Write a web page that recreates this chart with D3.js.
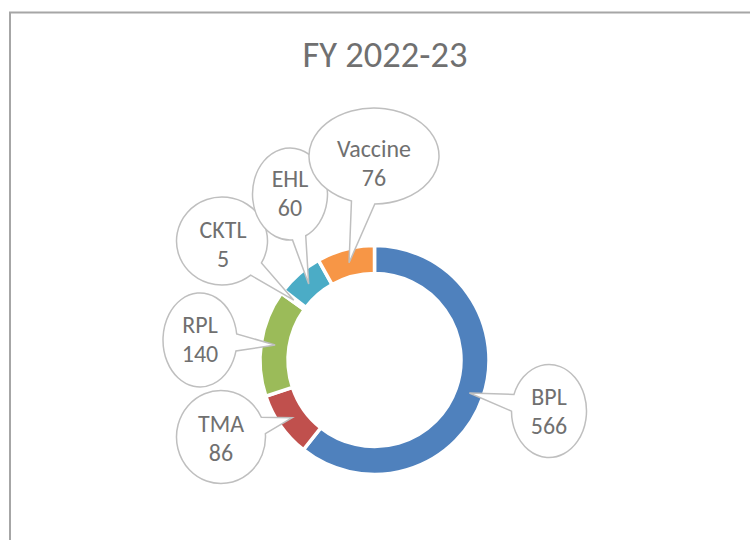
<!DOCTYPE html>
<html>
<head>
<meta charset="utf-8">
<script src="https://cdn.jsdelivr.net/npm/d3@7"></script>
<style>
  html, body { margin: 0; padding: 0; background: #fff; }
  svg { display: block; }
</style>
</head>
<body>
<svg id="chart" width="750" height="540"></svg>
<script>
// ---- data ----
const title = "FY 2022-23";
const categories = ["BPL", "TMA", "RPL", "CKTL", "EHL", "Vaccine"];
const values = [566, 86, 140, 5, 60, 76];
const colors = ["#4F81BD", "#C0504D", "#9BBB59", "#8064A2", "#4BACC6", "#F79646"];

// ---- layout (callout bubble placement) ----
const bubbleCx = [549, 221, 200, 222, 290, 374];
const bubbleCy = [411, 437, 340, 241, 194, 156];
const bubbleRx = [37.5, 44.5, 37, 45.5, 37.5, 65];
const bubbleRy = [46.5, 46.5, 47, 44, 46, 48];
const textX = [549, 221, 200, 223, 290, 374];
const textY = [405, 432, 333, 238, 187, 157];

const FONT = "Carlito, Calibri, Lato, 'Open Sans', sans-serif";
const TEXT_COLOR = "#707070";

const svg = d3.select("#chart");

// frame
svg.append("path")
  .attr("d", "M10,560 L10,12.5 L760,12.5")
  .attr("fill", "none")
  .attr("stroke", "#A6A6A6")
  .attr("stroke-width", 2);

// helper: fit font size to target width of sample string
function fitSize(sample, targetW, base) {
  const t = svg.append("text").attr("font-family", FONT).attr("font-size", base).text(sample);
  const w = t.node().getComputedTextLength();
  t.remove();
  return base * targetW / w;
}

const titleSize = fitSize(title, 165, 30);
svg.append("text")
  .attr("x", 385).attr("y", 67)
  .attr("text-anchor", "middle")
  .attr("font-family", FONT)
  .attr("font-size", titleSize)
  .attr("fill", TEXT_COLOR)
  .text(title);

// donut
const cx = 374.5, cy = 360;
const g = svg.append("g").attr("transform", `translate(${cx},${cy})`);
const data = categories.map((c, i) => ({ name: c, value: values[i], i }));
const pie = d3.pie().sort(null).value(d => d.value).startAngle(0).endAngle(2 * Math.PI);
const arcs = pie(data);
const arc = d3.arc().innerRadius(86.5).outerRadius(114.5);
const midArc = d3.arc().innerRadius(100.5).outerRadius(100.5);

g.selectAll("path.slice")
  .data(arcs)
  .join("path")
  .attr("class", "slice")
  .attr("d", arc)
  .attr("fill", d => colors[d.data.i])
  .attr("stroke", "#fff")
  .attr("stroke-width", 3.5)
  .attr("stroke-linejoin", "miter");

// callouts
const labelSize = fitSize("Vaccine", 74, 20);
const delta = 10.5 * Math.PI / 180;

arcs.forEach(a => {
  const i = a.data.i;
  const c = midArc.centroid(a);
  const tx = cx + c[0], ty = cy + c[1];
  const ex = bubbleCx[i], ey = bubbleCy[i], rx = bubbleRx[i], ry = bubbleRy[i];
  const phi = Math.atan2((ty - ey) / ry, (tx - ex) / rx);
  const p1 = [ex + rx * Math.cos(phi - delta), ey + ry * Math.sin(phi - delta)];
  const p2 = [ex + rx * Math.cos(phi + delta), ey + ry * Math.sin(phi + delta)];
  const d = `M${p2[0]},${p2[1]} A${rx},${ry} 0 1 1 ${p1[0]},${p1[1]} L${tx},${ty} Z`;
  svg.append("path")
    .attr("d", d)
    .attr("fill", "#fff")
    .attr("stroke", "#BFBFBF")
    .attr("stroke-width", 1.5)
    .attr("stroke-linejoin", "miter");
  const t = svg.append("text")
    .attr("text-anchor", "middle")
    .attr("font-family", FONT)
    .attr("font-size", labelSize)
    .attr("fill", TEXT_COLOR);
  t.append("tspan").attr("x", textX[i]).attr("y", textY[i]).text(a.data.name);
  t.append("tspan").attr("x", textX[i]).attr("y", textY[i] + 28.5).text(a.data.value);
});
</script>
</body>
</html>
